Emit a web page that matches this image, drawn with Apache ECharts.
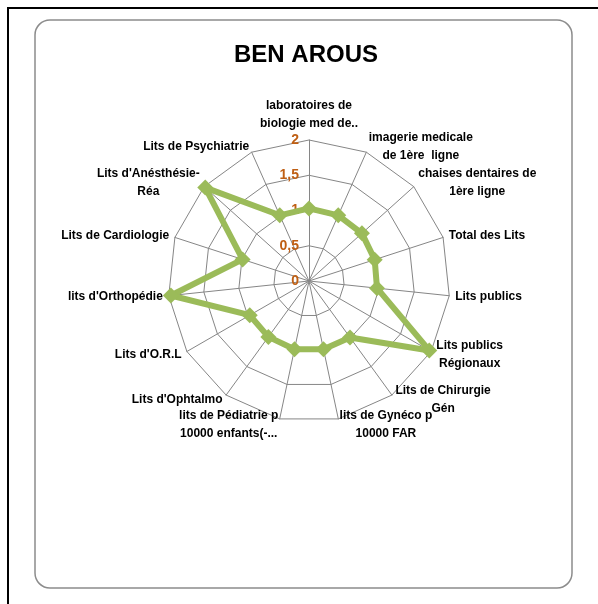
<!DOCTYPE html>
<html>
<head>
<meta charset="utf-8">
<script src="https://cdn.jsdelivr.net/npm/echarts@6/dist/echarts.min.js"></script>
<style>
  html, body { margin: 0; padding: 0; background: #fff; }
  #chart { width: 598px; height: 604px; }
</style>
</head>
<body>
<div id="chart"></div>
<script>
// axes, clockwise from the top
const indicatorNames = [
  'laboratoires de\nbiologie med de..',
  'imagerie medicale\nde 1ère  ligne',
  'chaises dentaires de\n1ère ligne',
  'Total des Lits',
  'Lits publics',
  'Lits publics\nRégionaux',
  'Lits de Chirurgie\nGén',
  'lits de Gynéco p\n10000 FAR',
  'lits de Pédiatrie p\n10000 enfants(-...',
  "Lits d'Ophtalmo",
  "Lits d'O.R.L",
  "lits d'Orthopédie",
  'Lits de Cardiologie',
  "Lits d'Anésthésie-\nRéa",
  'Lits de Psychiatrie'
]

const benArous = [1.03, 1.02, 1.01, 0.98, 0.97, 1.97, 0.99, 0.99, 0.99, 0.98, 0.97, 1.97, 0.99, 1.98, 1.02]

const axisMax = 2
const tickStep = 0.5

const font = '"Liberation Sans", Arial, sans-serif'

// echarts lays radar axes out counter-clockwise, so keep the first one on top
// and reverse the rest to get the clockwise order of the original
const clockwise = arr => [arr[0], ...arr.slice(1).reverse()]

const chart = echarts.init(document.getElementById('chart'))

const indicators = clockwise(indicatorNames).map((name, i) => ({
  name,
  min: 0,
  max: axisMax,
  // only the top axis carries the scale labels
  axisLabel: { show: i === 0 }
}))

const nameStyle = {
  color: '#000',
  fontFamily: font,
  fontWeight: 'bold',
  fontSize: 12,
  lineHeight: 18
}

const option = {
  animation: false,
  backgroundColor: '#fff',
  graphic: [
    {
      type: 'rect',
      silent: true,
      z: -10,
      shape: { x: 8, y: 8, width: 700, height: 700 },
      style: { fill: '#fff', stroke: '#000', lineWidth: 2 }
    },
    {
      type: 'rect',
      silent: true,
      z: -9,
      shape: { x: 35, y: 20, width: 537, height: 568, r: 15 },
      style: { fill: '#fff', stroke: '#8c8c8c', lineWidth: 1.5 }
    }
  ],
  title: {
    text: 'BEN AROUS',
    left: 301,
    textAlign: 'center',
    top: 38,
    textStyle: { fontFamily: font, fontWeight: 'bold', fontSize: 24, color: '#000' }
  },
  radar: {
    center: [309, 281],
    radius: 141,
    startAngle: 90,
    shape: 'polygon',
    splitNumber: axisMax / tickStep,
    indicator: indicators,
    axisName: {
      ...nameStyle,
      // centre each line inside its label block, like the original
      formatter: name => name.split('\n').map(l => '{c|' + l + '}').join('\n'),
      rich: { c: { ...nameStyle, align: 'center' } }
    },
    nameGap: 6,
    axisLine: { lineStyle: { color: '#868686', width: 1 } },
    splitLine: { lineStyle: { color: '#868686', width: 1 } },
    splitArea: { show: false },
    axisTick: { show: false },
    axisLabel: {
      show: true,
      color: '#bf5f14',
      fontFamily: font,
      fontWeight: 'bold',
      fontSize: 14,
      margin: 10,
      formatter: v => String(v).replace('.', ',')
    }
  },
  series: [
    {
      type: 'radar',
      symbol: 'diamond',
      symbolSize: 16,
      lineStyle: { color: '#9bbb59', width: 6 },
      itemStyle: { color: '#9bbb59' },
      data: [{ value: clockwise(benArous), name: 'BEN AROUS' }]
    }
  ]
}

chart.setOption(option)
</script>
</body>
</html>
